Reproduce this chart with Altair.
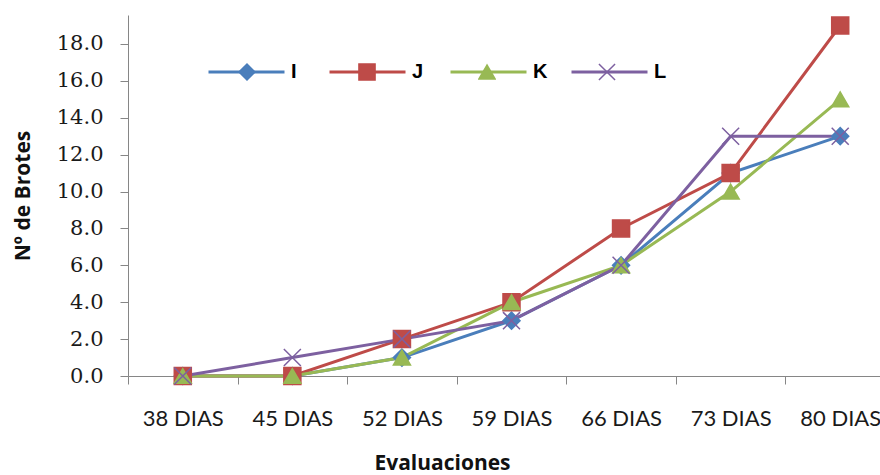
import altair as alt
import pandas as pd

dias = ["38 DIAS", "45 DIAS", "52 DIAS", "59 DIAS", "66 DIAS", "73 DIAS", "80 DIAS"]
series = ["I", "J", "K", "L"]
I_vals = [0, 0, 1, 3, 6, 11, 13]
J_vals = [0, 0, 2, 4, 8, 11, 19]
K_vals = [0, 0, 1, 4, 6, 10, 15]
L_vals = [0, 1, 2, 3, 6, 13, 13]
y_ticks = [0, 2, 4, 6, 8, 10, 12, 14, 16, 18]

colors = ["#4A7EBB", "#BE4B48", "#98B954", "#7D60A0"]
shapes = ["diamond", "square", "triangle-up", "M-1,-1L1,1M-1,1L1,-1"]

rows = []
for name, vals in zip(series, [I_vals, J_vals, K_vals, L_vals]):
    for d, v in zip(dias, vals):
        rows.append({"dia": d, "serie": name, "valor": v})
df = pd.DataFrame(rows)

line_legend = alt.Legend(
    title=None,
    orient="none",
    legendX=79,
    legendY=47,
    direction="horizontal",
    columns=4,
    gridAlign="all",
    columnPadding=22,
    padding=0,
    clipHeight=20,
    symbolType="stroke",
    symbolSize=5776,
    symbolStrokeWidth=3,
    labelOffset=5,
    labelFont="Liberation Sans",
    labelFontWeight="bold",
    labelFontSize=20,
    labelColor="#000000",
)

point_legend = alt.Legend(
    title=None,
    orient="none",
    legendX=110,
    legendY=47,
    direction="horizontal",
    columns=4,
    gridAlign="all",
    columnPadding=102,
    padding=0,
    clipHeight=20,
    symbolSize=260,
    symbolStrokeWidth=1.5,
    labelOffset=0,
    labelFontSize=1,
    labelExpr="''",
)

x_enc = alt.X(
    "dia:N",
    sort=dias,
    scale=alt.Scale(type="band", paddingInner=0, paddingOuter=0, range=[0, 767]),
    axis=alt.Axis(
        title="Evaluaciones",
        labelAngle=0,
        tickBand="extent",
        tickSize=8,
        labelPadding=34,
        labelBaseline="middle",
        labelFont="Lato",
        labelFontSize=22,
        labelColor="#1a1a1a",
        titleFont="Open Sans",
        titleFontWeight="bold",
        titleFontSize=21,
        titleColor="#111111",
        titleX=314,
        titleY=87,
        titleBaseline="middle",
        titleAnchor="start",
        titleAlign="center",
        domainColor="#868686",
        tickColor="#868686",
        grid=False,
    ),
)

y_enc = alt.Y(
    "valor:Q",
    scale=alt.Scale(domain=[0, 19.57], nice=False, zero=True),
    axis=alt.Axis(
        title="Nº de Brotes",
        values=y_ticks,
        format=".1f",
        tickSize=8,
        labelPadding=17,
        labelFont="DejaVu Serif",
        labelFontSize=21,
        labelColor="#1a1a1a",
        titleFont="Open Sans",
        titleFontWeight="bold",
        titleFontSize=21,
        titleColor="#111111",
        titleAngle=270,
        titleX=-105,
        titleBaseline="middle",
        domainColor="#868686",
        tickColor="#868686",
        grid=False,
    ),
)

color_scale = alt.Scale(domain=series, range=colors)

lines = alt.Chart(df).mark_line(strokeWidth=3).encode(
    x=x_enc,
    y=y_enc,
    color=alt.Color("serie:N", scale=color_scale, legend=line_legend),
)

points = alt.Chart(df).mark_point(filled=True, size=290, strokeWidth=1.5, opacity=1).encode(
    x=x_enc,
    y=y_enc,
    color=alt.Color("serie:N", scale=color_scale, legend=point_legend),
    stroke=alt.Stroke("serie:N", scale=alt.Scale(domain=series, range=colors), legend=point_legend),
    shape=alt.Shape("serie:N", scale=alt.Scale(domain=series, range=shapes), legend=point_legend),
)

chart = (
    alt.layer(lines, points)
    .resolve_legend(color="independent", shape="independent", stroke="independent")
    .properties(
        width=752,
        height=361,
        autosize=alt.AutoSizeParams(type="none"),
        padding={"left": 128, "top": 15, "right": 0, "bottom": 99},
        background="white",
    )
    .configure_view(stroke=None)
)

chart.save("out.html", embed_options={"renderer": "svg", "actions": False})
